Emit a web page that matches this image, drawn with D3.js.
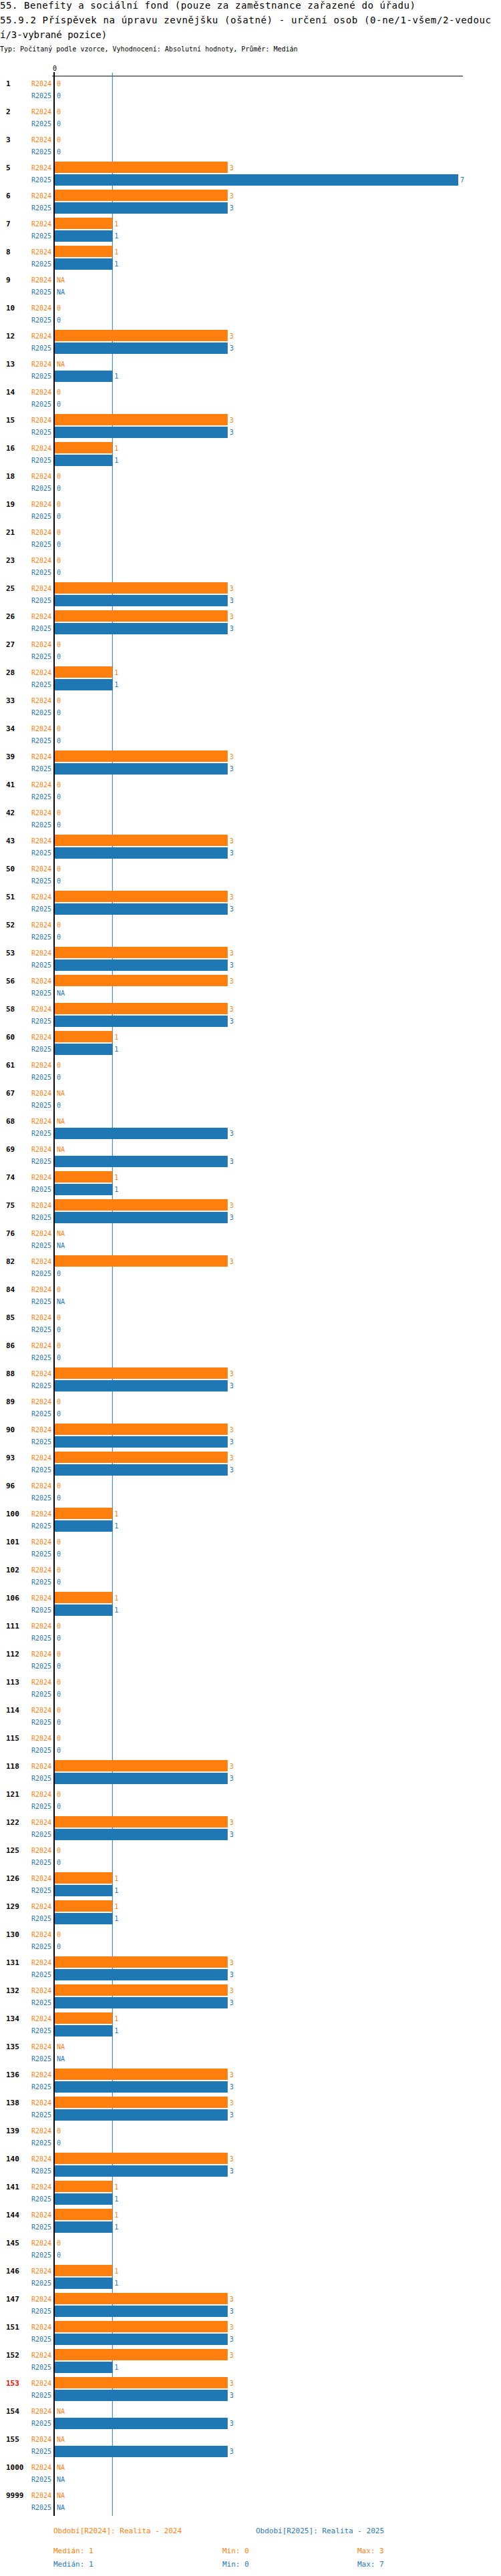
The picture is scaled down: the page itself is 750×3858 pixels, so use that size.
<!DOCTYPE html>
<html><head><meta charset="utf-8">
<script src="https://cdn.jsdelivr.net/npm/d3@7"></script>
<style>body{margin:0;background:#fff}svg{display:block}text{font-family:"DejaVu Sans Mono",monospace}</style>
</head><body><svg id="c" width="750" height="3858"></svg>
<script>
const categories=["1","2","3","5","6","7","8","9","10","12","13","14","15","16","18","19","21","23","25","26","27","28","33","34","39","41","42","43","50","51","52","53","56","58","60","61","67","68","69","74","75","76","82","84","85","86","88","89","90","93","96","100","101","102","106","111","112","113","114","115","118","121","122","125","126","129","130","131","132","134","135","136","138","139","140","141","144","145","146","147","151","152","153","154","155","1000","9999"];
const N=null;
const r2024=[0,0,0,3,3,1,1,N,0,3,N,0,3,1,0,0,0,0,3,3,0,1,0,0,3,0,0,3,0,3,0,3,3,3,1,0,N,N,N,1,3,N,3,0,0,0,3,0,3,3,0,1,0,0,1,0,0,0,0,0,3,0,3,0,1,1,0,3,3,1,N,3,3,0,3,1,1,0,1,3,3,3,3,N,N,N,N];
const r2025=[0,0,0,7,3,1,1,N,0,3,1,0,3,1,0,0,0,0,3,3,0,1,0,0,3,0,0,3,0,3,0,3,N,3,1,0,0,3,3,1,3,N,0,N,0,0,3,0,3,3,0,1,0,0,1,0,0,0,0,0,3,0,3,0,1,1,0,3,3,1,N,3,3,0,3,1,1,0,1,3,3,1,3,3,3,N,N];
const seriesNames=["R2024","R2025"];
const colors=["#ff7f0e","#1f77b4"];
const highlight="153";
const medians=[1,1],mins=[0,0],maxs=[3,7];

const svg=d3.select("#c");
const t=svg.append("g").attr("font-size",14).attr("fill","#000");
["55. Benefity a sociální fond (pouze za zaměstnance zařazené do úřadu)","55.9.2 Příspěvek na úpravu zevnějšku (ošatné) - určení osob (0-ne/1-všem/2-vedouc","í/3-vybrané pozice)"].forEach((s,i)=>t.append("text").attr("x",0).attr("y",13+i*22).attr("textLength",s.length>30?(i==0?622:735):null).text(s));
svg.append("text").attr("x",0).attr("y",77).attr("font-size",10).text("Typ: Počítaný podle vzorce, Vyhodnocení: Absolutní hodnoty, Průměr: Medián");

const x=d3.scaleLinear().domain([0,7]).range([82,686]);
const y=d3.scaleBand().domain(categories).range([114,114+42*categories.length]);
const sub=d3.scaleBand().domain(seriesNames).range([2,38]).paddingInner(0.1);

svg.append("line").attr("x1",78).attr("x2",693).attr("y1",114).attr("y2",114).attr("stroke","#000").attr("stroke-width",1.2);
svg.append("text").attr("x",x(0)).attr("y",106).attr("font-size",10).attr("text-anchor","middle").text("0");
svg.append("line").attr("x1",x(medians[0])).attr("x2",x(medians[0])).attr("y1",109).attr("y2",3768).attr("stroke","#1f77b4").attr("stroke-width",1);

const g=svg.selectAll("g.cat").data(categories).join("g").attr("transform",d=>`translate(0,${y(d)})`);
g.append("text").attr("x",9).attr("y",sub("R2024")+sub.bandwidth()/2+4).attr("font-size",11).attr("font-weight","bold").attr("fill",d=>d===highlight?"#ff0000":"#000").text(d=>d);
[r2024,r2025].forEach((vals,si)=>{
  const nm=seriesNames[si];
  g.append("text").attr("x",77).attr("y",sub(nm)+sub.bandwidth()/2+4).attr("font-size",10).attr("text-anchor","end").attr("fill",colors[si]).text(nm);
  g.filter((d,i)=>vals[i]!=null&&vals[i]>0).append("rect").attr("x",x(0)).attr("y",sub(nm)).attr("height",sub.bandwidth()).attr("width",(d)=>x(vals[categories.indexOf(d)])-x(0)).attr("fill",colors[si]);
  g.append("text").attr("x",d=>{const v=vals[categories.indexOf(d)];return (v==null?x(0):x(v))+3;}).attr("y",sub(nm)+sub.bandwidth()/2+4).attr("font-size",10).attr("fill",colors[si]).text(d=>{const v=vals[categories.indexOf(d)];return v==null?"NA":v;});
});
svg.append("line").attr("x1",81).attr("x2",81).attr("y1",108).attr("y2",3768).attr("stroke","#000").attr("stroke-width",2);

const L=svg.append("g").attr("font-size",11);
L.append("text").attr("x",80).attr("y",3794).attr("fill",colors[0]).text("Období[R2024]: Realita - 2024");
L.append("text").attr("x",383).attr("y",3794).attr("fill",colors[1]).text("Období[R2025]: Realita - 2025");
[0,1].forEach(i=>{
  const yy=3824+i*20;
  L.append("text").attr("x",80).attr("y",yy).attr("fill",colors[i]).text("Medián: "+medians[i]);
  L.append("text").attr("x",333).attr("y",yy).attr("fill",colors[i]).text("Min: "+mins[i]);
  L.append("text").attr("x",535).attr("y",yy).attr("fill",colors[i]).text("Max: "+maxs[i]);
});
</script></body></html>
